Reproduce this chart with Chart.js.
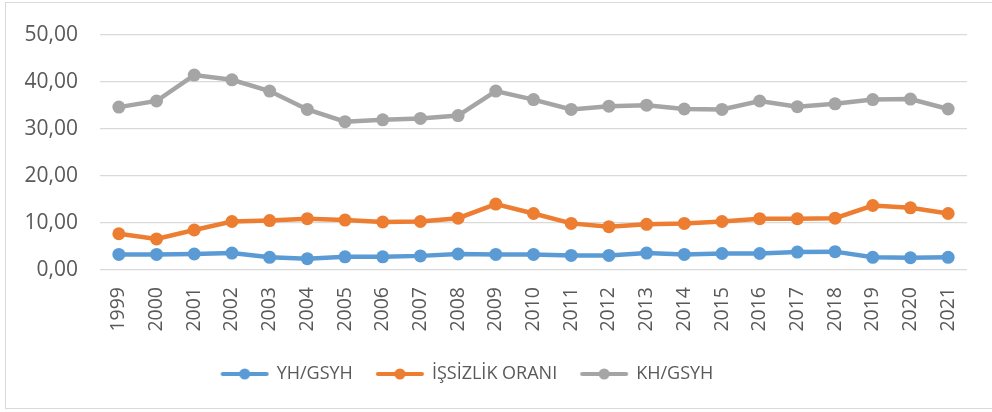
<!DOCTYPE html>
<html>
<head>
<meta charset="utf-8">
<script src="https://cdn.jsdelivr.net/npm/chart.js@4.4.1/dist/chart.umd.min.js"></script>
<style>
  html, body { margin: 0; padding: 0; background: #ffffff; }
  #wrap { position: relative; width: 992px; height: 412px; overflow: hidden; }
  #frame { position: absolute; left: 5px; top: 2px; width: 1000px; height: 407px; border: 1px solid #d9d9d9; box-sizing: border-box; }
  #yearChart { position: absolute; left: 0; top: 0; }
</style>
</head>
<body>
<div id="wrap">
  <div id="frame"></div>
  <canvas id="yearChart" width="992" height="412"></canvas>
</div>
<script>
var years = ["1999", "2000", "2001", "2002", "2003", "2004", "2005", "2006", "2007", "2008", "2009", "2010",
             "2011", "2012", "2013", "2014", "2015", "2016", "2017", "2018", "2019", "2020", "2021"];

var yhGsyh = [3.3, 3.3, 3.4, 3.6, 2.7, 2.4, 2.8, 2.8, 3.0, 3.4, 3.3, 3.3,
              3.1, 3.1, 3.6, 3.3, 3.5, 3.5, 3.8, 3.9, 2.7, 2.6, 2.7];

var issizlik = [7.7, 6.6, 8.5, 10.3, 10.5, 10.9, 10.6, 10.2, 10.3, 11.0, 14.0, 12.0,
                9.9, 9.2, 9.7, 9.9, 10.3, 10.9, 10.9, 11.0, 13.7, 13.2, 12.0];

var khGsyh = [34.6, 35.9, 41.4, 40.4, 38.0, 34.1, 31.5, 31.9, 32.2, 32.8, 38.0, 36.2,
              34.1, 34.8, 35.0, 34.2, 34.1, 35.9, 34.7, 35.3, 36.2, 36.3, 34.2];

var seriesNames = ["YH/GSYH", "İŞSİZLİK ORANI", "KH/GSYH"];
var seriesColors = ["#5b9bd5", "#ed7d31", "#a5a5a5"];

var textColor = "#595959";
var fontName = "'Open Sans', 'Liberation Sans', sans-serif";

// little line-with-dot picture for the legend, like excel does
function legendMarker(color) {
    var c = document.createElement("canvas");
    c.width = 60;
    c.height = 14;
    var g = c.getContext("2d");
    g.strokeStyle = color;
    g.lineWidth = 4;
    g.lineCap = "round";
    g.beginPath();
    g.moveTo(9, 7);
    g.lineTo(53, 7);
    g.stroke();
    g.fillStyle = color;
    g.beginPath();
    g.arc(31, 7, 5.5, 0, Math.PI * 2);
    g.fill();
    return c;
}

function makeSet(i, values) {
    return {
        label: seriesNames[i],
        data: values,
        borderColor: seriesColors[i],
        backgroundColor: seriesColors[i],
        borderWidth: 4.5,
        pointStyle: "circle",
        pointRadius: 6.5,
        pointHoverRadius: 6.5,
        pointBorderWidth: 0,
        tension: 0
    };
}

// move the legend a bit to the left, the original is not centred on the canvas
var shiftLegend = {
    id: "shiftLegend",
    afterLayout: function(chart) {
        chart.legend.left -= 17;
        chart.legend.right -= 17;
    }
};

var ctx = document.getElementById("yearChart");

var chart = new Chart(ctx, {
    type: "line",
    data: {
        labels: years,
        datasets: [
            makeSet(0, yhGsyh),
            makeSet(1, issizlik),
            makeSet(2, khGsyh)
        ]
    },
    options: {
        responsive: false,
        animation: false,
        layout: {
            autoPadding: false,
            padding: { left: 0, right: 25, top: 31, bottom: 19 }
        },
        plugins: {
            tooltip: { enabled: false },
            legend: {
                position: "bottom",
                labels: {
                    usePointStyle: true,
                    pointStyleWidth: 48,
                    padding: 22,
                    color: textColor,
                    font: { family: fontName, size: 18 },
                    generateLabels: function(ch) {
                        return ch.data.datasets.map(function(ds, i) {
                            return {
                                text: ds.label,
                                fillStyle: ds.borderColor,
                                strokeStyle: ds.borderColor,
                                fontColor: textColor,
                                lineWidth: 0,
                                pointStyle: legendMarker(ds.borderColor),
                                datasetIndex: i
                            };
                        });
                    }
                }
            }
        },
        scales: {
            x: {
                offset: true,
                grid: { display: false, drawTicks: false },
                border: { display: false },
                ticks: {
                    minRotation: 90,
                    maxRotation: 90,
                    autoSkip: false,
                    padding: 17,
                    color: textColor,
                    font: { family: fontName, size: 19.5 }
                },
                afterFit: function(scale) {
                    scale.height = 73;
                }
            },
            y: {
                min: 0,
                max: 50,
                grid: { color: "#d9d9d9", lineWidth: 1.3, drawTicks: false },
                border: { display: false },
                ticks: {
                    stepSize: 10,
                    padding: 22,
                    color: textColor,
                    font: { family: fontName, size: 21 },
                    callback: function(value) {
                        return value.toFixed(2).replace(".", ",");
                    }
                },
                afterFit: function(scale) {
                    scale.width = 100;
                }
            }
        }
    },
    plugins: [shiftLegend]
});
</script>
</body>
</html>
